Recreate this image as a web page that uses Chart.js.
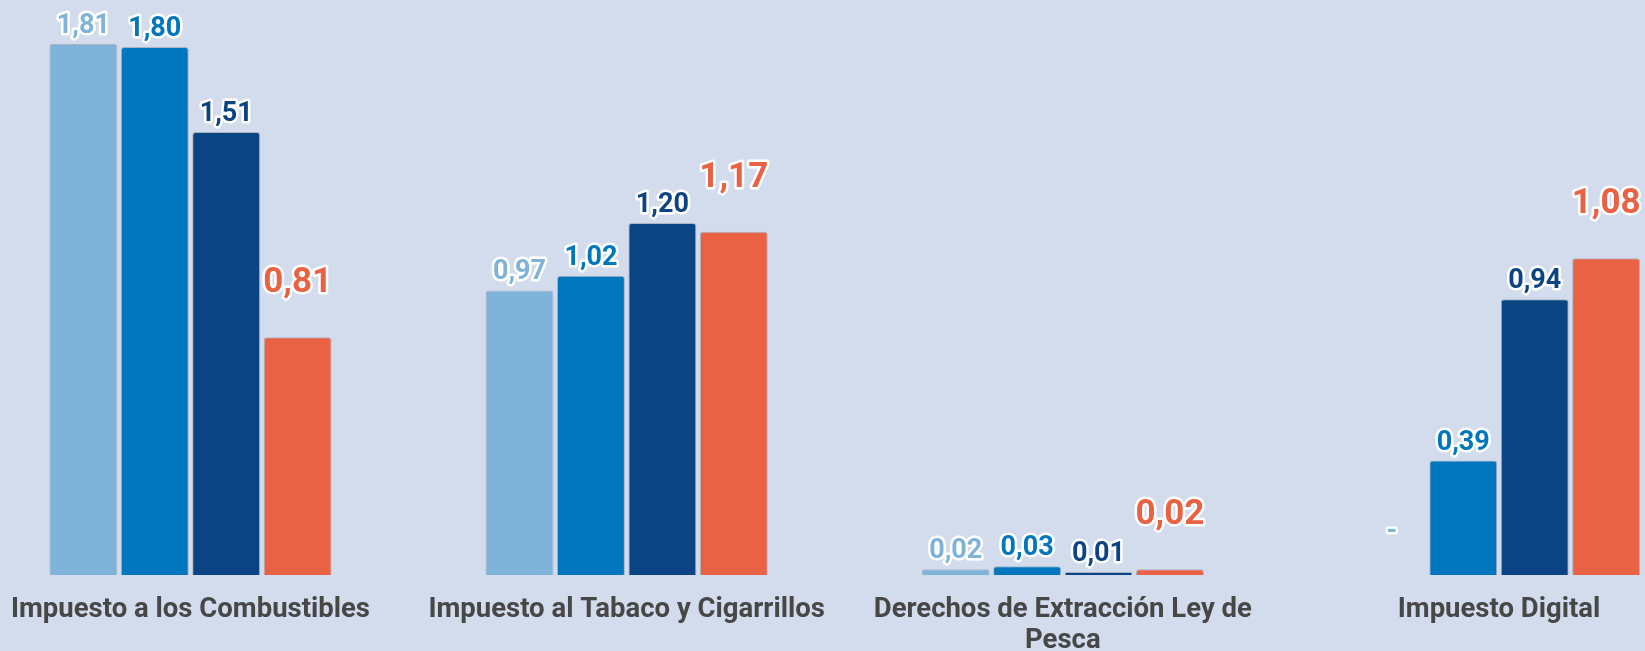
<!DOCTYPE html>
<html>
<head>
<meta charset="utf-8">
<script src="https://cdn.jsdelivr.net/npm/chart.js"></script>
<style>
  html, body { margin: 0; padding: 0; background: #d3dcec; }
  canvas { display: block; }
</style>
</head>
<body>
<canvas id="chart" width="1645" height="651"></canvas>
<script>
const categories = [
  "Impuesto a los Combustibles",
  "Impuesto al Tabaco y Cigarrillos",
  ["Derechos de Extracción Ley de", "Pesca"],
  "Impuesto Digital"
];
const serieA = [1.81, 0.97, 0.02, null];
const serieB = [1.80, 1.02, 0.03, 0.39];
const serieC = [1.51, 1.20, 0.01, 0.94];
const serieD = [0.81, 1.17, 0.02, 1.08];
const colors = ["#7fb3d9", "#0077bd", "#0b4482", "#e96243"];

const fmt = (v) => v == null ? "-" : v.toFixed(2).replace(".", ",");

// value labels with white outline, last series drawn bigger and higher
const valueLabels = {
  id: "valueLabels",
  afterDatasetsDraw(chart) {
    const ctx = chart.ctx;
    const yScale = chart.scales.y;
    chart.data.datasets.forEach((ds, di) => {
      const meta = chart.getDatasetMeta(di);
      const big = di === 3;
      meta.data.forEach((bar, i) => {
        const v = ds.data[i];
        let top = v == null ? yScale.getPixelForValue(0) : bar.y;
        let off = big ? 45 : 11;
        if (v == null) off = 36;
        ctx.save();
        ctx.font = "bold " + (big ? 35 : 27) + "px Roboto";
        ctx.textAlign = "center";
        ctx.textBaseline = "alphabetic";
        ctx.lineJoin = "round";
        ctx.lineWidth = 5;
        ctx.strokeStyle = "#ffffff";
        ctx.strokeText(fmt(v), bar.x, top - off);
        ctx.fillStyle = ds.backgroundColor;
        ctx.fillText(fmt(v), bar.x, top - off);
        ctx.restore();
      });
    });
  }
};

const mkSet = (label, data, color) => ({
  label: label,
  data: data,
  backgroundColor: color,
  borderColor: "rgba(90, 100, 120, 0.35)",
  borderWidth: 1,
  borderSkipped: "bottom",
  borderRadius: 3,
  clip: false,
  categoryPercentage: 0.655,
  barPercentage: 0.951
});

new Chart(document.getElementById("chart").getContext("2d"), {
  type: "bar",
  data: {
    labels: categories,
    datasets: [
      mkSet("A", serieA, colors[0]),
      mkSet("B", serieB, colors[1]),
      mkSet("C", serieC, colors[2]),
      mkSet("D", serieD, colors[3])
    ]
  },
  options: {
    responsive: false,
    animation: false,
    layout: { padding: { left: 189, right: 146, top: 0, bottom: 0 } },
    plugins: { legend: { display: false }, tooltip: { enabled: false } },
    scales: {
      x: {
        offset: false,
        grid: { display: false },
        border: { display: false },
        afterFit: (scale) => { scale.height = 76; },
        ticks: {
          autoSkip: false,
          maxRotation: 0,
          minRotation: 0,
          padding: 11,
          color: "#474747",
          font: { family: "Roboto", size: 27.5, weight: "bold", lineHeight: 1.15 }
        }
      },
      y: {
        display: false,
        min: 0,
        max: 1.96
      }
    }
  },
  plugins: [valueLabels]
});
</script>
</body>
</html>
